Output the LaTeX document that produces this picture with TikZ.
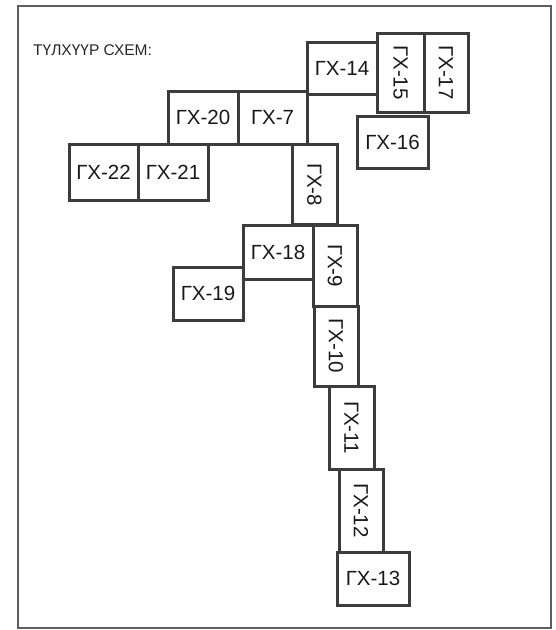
\documentclass[tikz,border=0pt]{standalone}
\usepackage{fontspec}
\setmainfont{Liberation Sans}
\usepackage{tikz}
\usetikzlibrary{positioning}
\definecolor{sink}{HTML}{3C3C3C}
\definecolor{sfrm}{HTML}{5E5E5E}
\tikzset{
  sect/.style  ={draw=sink, line width=3pt, fill=white, inner sep=0pt,
                 font=\fontsize{20.5}{22}\selectfont, text=black!90},
  hsect/.style ={sect, minimum width=70pt, minimum height=53pt},
  vsect/.style ={sect, rotate=-90, minimum width=81pt, minimum height=45pt},
  frm/.style   ={draw=sfrm, line width=2pt},
  ttl/.style   ={font=\fontsize{15.5}{17}\selectfont, text=black!85, inner sep=0pt},
}
\begin{document}
\begin{tikzpicture}[x=1pt, y=-1pt]
  \useasboundingbox (0,0) rectangle (556,630);
  \draw[frm] (18,6) rectangle (551,628);
  \node[ttl, anchor=base west] (title) at (33,55) {ТҮЛХҮҮР СХЕМ:};

  % top row
  \node[hsect, minimum height=52pt] (g14) at (342,68) {ГХ-14};
  \node[vsect, minimum width=79pt, minimum height=47pt] (g15) at (400.5,72.5) {ГХ-15};
  \node[vsect, minimum width=79pt, minimum height=44pt] (g17) at (446,72.5) {ГХ-17};
  \node[hsect, minimum width=71pt, minimum height=52pt] (g16) at (392.5,142) {ГХ-16};

  % left branch
  \node[hsect] (g20) at (203,117.5) {ГХ-20};
  \node[hsect, minimum width=69pt] (g7) at (272.5,117.5) {ГХ-7};
  \node[hsect, minimum width=69pt, minimum height=56pt] (g22) at (103.5,172) {ГХ-22};
  \node[hsect, minimum height=56pt] (g21) at (173,172) {ГХ-21};

  % main line
  \node[vsect, minimum width=80pt] (g8) at (314.5,184.5) {ГХ-8};
  \node[hsect, minimum height=54pt] (g18) at (278,252) {ГХ-18};
  \node[vsect, minimum height=44pt] (g9) at (335,265.5) {ГХ-9};
  \node[hsect] (g19) at (208,293.5) {ГХ-19};
  \node[vsect, minimum width=80pt, minimum height=44pt] (g10) at (336,346) {ГХ-10};
  \node[vsect, minimum width=83pt] (g11) at (351.5,427.5) {ГХ-11};
  \node[vsect, minimum width=83pt, minimum height=44pt] (g12) at (361,510.5) {ГХ-12};
  \node[hsect, minimum width=72pt] (g13) at (373,578.5) {ГХ-13};
\end{tikzpicture}
\end{document}
